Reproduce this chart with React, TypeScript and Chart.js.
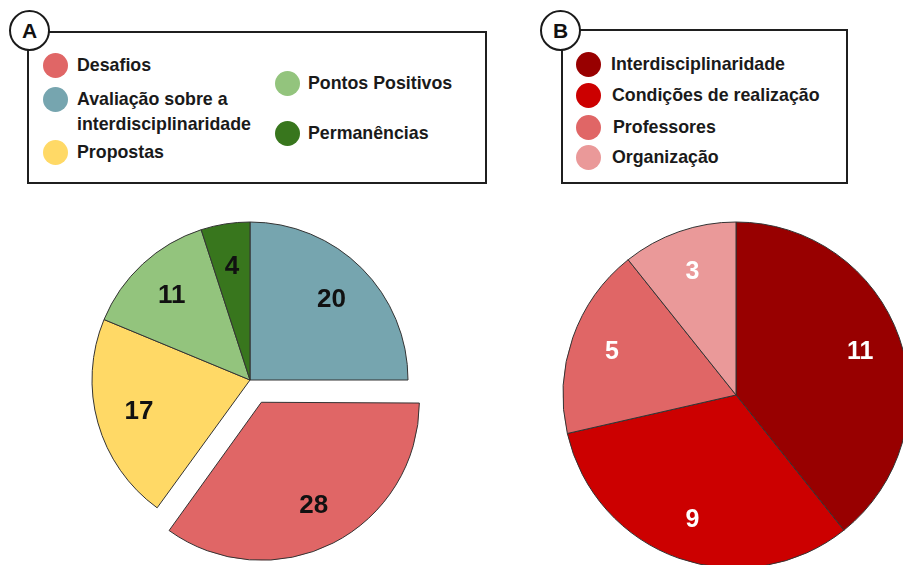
import React, { useEffect, useRef } from "react";
import { Chart, registerables } from "chart.js";

Chart.register(...registerables);

// ---- Data ----
const catsA = ["Avaliação sobre a interdisciplinaridade", "Desafios", "Propostas", "Pontos Positivos", "Permanências"];
const valsA = [20, 28, 17, 11, 4];
const colorsA = ["#76a5af", "#e06666", "#ffd966", "#93c47d", "#38761d"];
// Chart.js translates an arc by offset/4 px
const offsetsA = [0, 100, 0, 0, 0];

const catsB = ["Interdisciplinaridade", "Condições de realização", "Professores", "Organização"];
const valsB = [11, 9, 5, 3];
const colorsB = ["#980000", "#cc0000", "#e06666", "#ea9999"];

const legendA = [
  { label: "Desafios", color: "#e06666", x: 55, y: 65, tx: 77 },
  { label: "Avaliação sobre a\ninterdisciplinaridade", color: "#76a5af", x: 55, y: 99, tx: 77 },
  { label: "Propostas", color: "#ffd966", x: 55, y: 152, tx: 77 },
  { label: "Pontos Positivos", color: "#93c47d", x: 287, y: 83, tx: 308 },
  { label: "Permanências", color: "#38761d", x: 287, y: 133, tx: 308 },
];
const legendB = [
  { label: "Interdisciplinaridade", color: "#980000", x: 588, y: 64.5, tx: 611 },
  { label: "Condições de realização", color: "#cc0000", x: 588, y: 95.5, tx: 612 },
  { label: "Professores", color: "#e06666", x: 588, y: 127, tx: 613 },
  { label: "Organização", color: "#ea9999", x: 588, y: 157, tx: 612 },
];

const FONT = '"Liberation Sans", Arial, sans-serif';

// keep exploded slices at the same radius as the others
const keepRadiusPlugin = {
  id: "keepRadius",
  afterDatasetUpdate(chart: any, args: any) {
    const meta = chart.getDatasetMeta(args.index);
    meta.data.forEach((arc: any) => {
      const off = ((arc.options && arc.options.offset) || 0) / 4;
      if (off) {
        const fix = 1 - Math.sin(Math.min(Math.PI, arc.circumference || 0));
        arc.outerRadius = arc.outerRadius - off * fix;
      }
    });
  },
};

function makeLabelPlugin(color: string, size: number, ratio: number, baseRadius: number) {
  return {
    id: "sliceLabels",
    afterDatasetsDraw(chart: any) {
      const ctx = chart.ctx;
      const meta = chart.getDatasetMeta(0);
      const ds = chart.data.datasets[0];
      ctx.save();
      ctx.fillStyle = color;
      ctx.font = `bold ${size}px ${FONT}`;
      ctx.textAlign = "center";
      ctx.textBaseline = "middle";
      meta.data.forEach((arc: any, i: number) => {
        const p = arc.getProps(["x", "y", "startAngle", "endAngle"], true);
        const mid = (p.startAngle + p.endAngle) / 2;
        const off = ((arc.options && arc.options.offset) || 0) / 4;
        const r = baseRadius * ratio + off;
        const x = p.x + Math.cos(mid) * r;
        const y = p.y + Math.sin(mid) * r;
        ctx.fillText(String(ds.data[i]), x, y + 1);
      });
      ctx.restore();
    },
  };
}

function PieCanvas(props: {
  labels: string[];
  values: number[];
  colors: string[];
  offsets?: number[];
  radius: number;
  left: number;
  top: number;
  size: number;
  labelColor: string;
  labelSize: number;
  ratio: number;
}) {
  const ref = useRef<HTMLCanvasElement | null>(null);
  useEffect(() => {
    if (!ref.current) return;
    const chart = new Chart(ref.current, {
      type: "pie",
      data: {
        labels: props.labels,
        datasets: [
          {
            data: props.values,
            backgroundColor: props.colors,
            borderColor: "#333333",
            borderWidth: 1,
            offset: props.offsets || 0,
          } as any,
        ],
      },
      options: {
        animation: false,
        responsive: false,
        radius: props.radius,
        rotation: 0,
        layout: { padding: 0 },
        plugins: {
          legend: { display: false },
          tooltip: { enabled: false },
          title: { display: false },
        },
      } as any,
      plugins: [keepRadiusPlugin, makeLabelPlugin(props.labelColor, props.labelSize, props.ratio, props.radius)],
    });
    return () => chart.destroy();
  }, []);
  return (
    <canvas
      ref={ref}
      width={props.size}
      height={props.size}
      style={{ position: "absolute", left: props.left, top: props.top, width: props.size, height: props.size }}
    />
  );
}

function Badge(props: { letter: string; cx: number; cy: number }) {
  const d = 41;
  return (
    <div
      style={{
        position: "absolute",
        left: props.cx - d / 2,
        top: props.cy - d / 2,
        width: d,
        height: d,
        boxSizing: "border-box",
        border: "2px solid #1a1a1a",
        borderRadius: "50%",
        background: "#fff",
        display: "flex",
        alignItems: "center",
        justifyContent: "center",
        fontFamily: FONT,
        fontWeight: "bold",
        fontSize: 21,
        color: "#111",
        lineHeight: "21px",
      }}
    >
      {props.letter}
    </div>
  );
}

function LegendItems(props: { items: { label: string; color: string; x: number; y: number; tx: number }[] }) {
  return (
    <>
      {props.items.map((it, i) => {
        const lines = it.label.split("\n");
        return (
          <React.Fragment key={i}>
            <div
              style={{
                position: "absolute",
                left: it.x - 12.5,
                top: it.y - 12.5,
                width: 25,
                height: 25,
                borderRadius: "50%",
                background: it.color,
              }}
            />
            <div
              style={{
                position: "absolute",
                left: it.tx,
                top: it.y - 12.5,
                fontFamily: FONT,
                fontWeight: "bold",
                fontSize: 17.8,
                lineHeight: "25px",
                color: "#1a1a1a",
                whiteSpace: "nowrap",
              }}
            >
              {lines.map((l, j) => (
                <div key={j}>{l}</div>
              ))}
            </div>
          </React.Fragment>
        );
      })}
    </>
  );
}

export default function App() {
  return (
    <div
      style={{
        position: "absolute",
        left: 0,
        top: 0,
        width: 903,
        height: 565,
        overflow: "hidden",
        background: "#ffffff",
      }}
    >
      {/* Legend box A */}
      <div
        style={{
          position: "absolute",
          left: 27,
          top: 31,
          width: 460,
          height: 153,
          boxSizing: "border-box",
          border: "2px solid #1f1f1f",
        }}
      />
      <Badge letter="A" cx={29.5} cy={30} />
      <LegendItems items={legendA} />

      {/* Legend box B */}
      <div
        style={{
          position: "absolute",
          left: 561,
          top: 29,
          width: 287,
          height: 155,
          boxSizing: "border-box",
          border: "2px solid #1f1f1f",
        }}
      />
      <Badge letter="B" cx={560.5} cy={30} />
      <LegendItems items={legendB} />

      <PieCanvas
        labels={catsA}
        values={valsA}
        colors={colorsA}
        offsets={offsetsA}
        radius={158}
        left={50}
        top={180}
        size={400}
        labelColor="#111111"
        labelSize={26}
        ratio={0.73}
      />
      <PieCanvas
        labels={catsB}
        values={valsB}
        colors={colorsB}
        radius={173}
        left={536}
        top={195}
        size={400}
        labelColor="#ffffff"
        labelSize={25}
        ratio={0.76}
      />
    </div>
  );
}
